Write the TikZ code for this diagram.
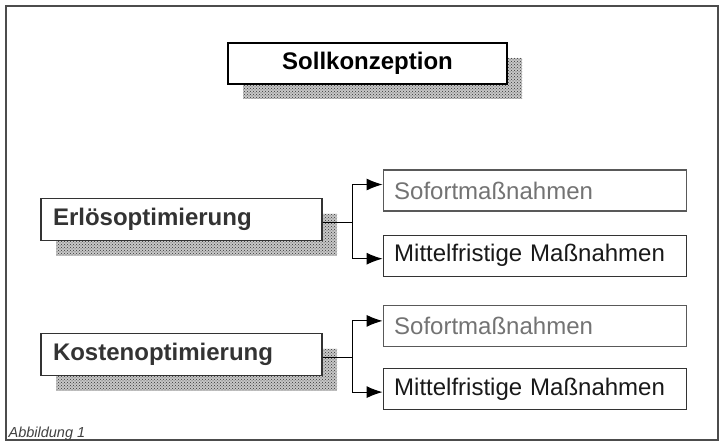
\documentclass[tikz,border=0pt]{standalone}
\usepackage{fontspec}
\setmainfont{Liberation Sans}
\usetikzlibrary{positioning, arrows.meta, shadows, patterns}

\begin{document}
\begin{tikzpicture}[x=1pt, y=1pt, line width=1.1pt,
    pointer/.style={-{Latex[length=16pt, width=12pt]}},
    every node/.style={draw=black!80, fill=white, line width=1.2pt, inner sep=0pt},
    dotshadow/.style={general shadow={shadow xshift=15pt, shadow yshift=-15pt, fill=black!22},
        general shadow={shadow xshift=15pt, shadow yshift=-15pt, pattern=crosshatch dots, pattern color=black!80}},
    headbox/.style={dotshadow, line width=2pt, draw=black, minimum width=279pt, minimum height=41pt, font=\fontsize{24}{28}\selectfont\bfseries},
    goalbox/.style={dotshadow, minimum height=42pt, text width=257pt, inner xsep=12pt, align=left, font=\fontsize{24}{28}\selectfont\bfseries, text=black!80},
    stepbox/.style={minimum height=41pt, text width=281pt, inner xsep=11pt, align=left, font=\fontsize{24}{28}\selectfont, text=black!90},
    nowbox/.style={stepbox, draw=black!65, text=black!55}]
\useasboundingbox (0,0) rectangle (721,-444);
\draw[black!70, line width=1.5pt] (6,-6) rectangle (718,-440);

\node[headbox] (sk) at (367.5,-63.5) {Sollkonzeption};

\begin{scope}
    \node[goalbox] (eo) at (181.5,-219.5) {Erlösoptimierung};
    \node[goalbox, below=92pt of eo] (ko) {Kostenoptimierung};
\end{scope}

\begin{scope}
    \node[nowbox, right=60pt of eo, yshift=29pt] (so1) {Sofortmaßnahmen};
    \node[stepbox, below=23pt of so1] (mf1) {Mittelfristige Maßnahmen};
    \node[nowbox, below=28pt of mf1] (so2) {Sofortmaßnahmen};
    \node[stepbox, below=21pt of so2] (mf2) {Mittelfristige Maßnahmen};
\end{scope}

\draw ([yshift=-3pt]eo.east) -- ++(30,0) coordinate (ej);
\draw[pointer] (ej) |- ([yshift=6pt]so1.west);
\draw[pointer] (ej) |- ([yshift=-3pt]mf1.west);

\draw ([yshift=-3pt]ko.east) -- ++(30,0) coordinate (kj);
\draw[pointer] (kj) |- ([yshift=5pt]so2.west);
\draw[pointer] (kj) |- ([yshift=-3pt]mf2.west);

\node[draw=none, fill=none, anchor=base west, font=\fontsize{14.5}{17}\selectfont\itshape, text=black!75] (ab) at (8,-437) {Abbildung 1};
\end{tikzpicture}
\end{document}
